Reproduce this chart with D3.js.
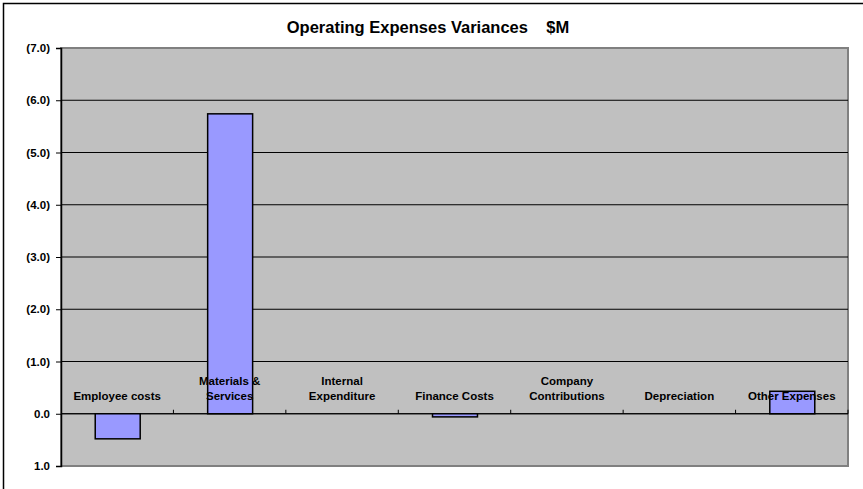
<!DOCTYPE html>
<html><head><meta charset="utf-8">
<script src="https://cdn.jsdelivr.net/npm/d3@7/dist/d3.min.js"></script>
<style>body{margin:0;background:#fff;} text{font-family:Arial,"Liberation Sans",sans-serif;font-weight:bold;}</style>
</head><body><svg id="c" width="863" height="489"></svg>
<script>
const categories = [["Employee costs"],["Materials &","Services"],["Internal","Expenditure"],["Finance Costs"],["Company","Contributions"],["Depreciation"],["Other Expenses"]];
const values = [0.48, -5.74, 0, 0.06, 0, 0, -0.43];
const tickValues = [-7, -6, -5, -4, -3, -2, -1, 0, 1];
const title = "Operating Expenses Variances\u00a0\u00a0\u00a0\u00a0$M";

const svg = d3.select("#c");
const L = 61, R = 848, T = 48, B = 466;
svg.append("rect").attr("x",3.5).attr("y",3.5).attr("width",900).attr("height",500).attr("fill","#fff").attr("stroke","#000").attr("stroke-width",1.5);

const x = d3.scaleBand().domain(d3.range(categories.length)).range([L,R]);
const y = d3.scaleLinear().domain([-7,1]).range([T,B]);

svg.append("rect").attr("x",L).attr("y",T).attr("width",R-L).attr("height",B-T).attr("fill","#C0C0C0").attr("stroke","#808080").attr("stroke-width",2);

svg.append("g").selectAll("line").data(tickValues.filter(v=>v>-7 && v<1)).join("line")
  .attr("x1",L).attr("x2",R).attr("y1",d=>y(d)).attr("y2",d=>y(d)).attr("stroke","#000").attr("stroke-width",1);

const fmt = v => v < 0 ? "(" + d3.format(".1f")(-v) + ")" : d3.format(".1f")(v);
const yAxis = d3.axisLeft(y).tickValues(tickValues).tickFormat(fmt).tickSize(5).tickPadding(6);
const ga = svg.append("g").attr("transform",`translate(${L},0)`).call(yAxis);
ga.select(".domain").attr("stroke","#000").attr("stroke-width",1.5);
ga.selectAll("text").attr("font-size","11.5px").attr("fill","#000");

svg.append("line").attr("x1",L).attr("x2",R).attr("y1",y(0)).attr("y2",y(0)).attr("stroke","#000").attr("stroke-width",1.2);
svg.append("g").selectAll("line").data(d3.range(1,categories.length+1)).join("line")
  .attr("x1",d=>x(d-1)+x.bandwidth()).attr("x2",d=>x(d-1)+x.bandwidth())
  .attr("y1",y(0)-4).attr("y2",y(0)).attr("stroke","#000");

const bw = x.bandwidth()*0.4;
svg.append("g").selectAll("rect").data(values).join("rect")
  .attr("x",(d,i)=>x(i)+x.bandwidth()/2-bw/2+0.5)
  .attr("y",d=>y(Math.min(0,d)))
  .attr("width",bw)
  .attr("height",d=>Math.abs(y(d)-y(0)))
  .attr("fill","#9999FF").attr("stroke","#000").attr("stroke-width",1.5)
  .attr("display",d=>d===0?"none":null);

const lab = svg.append("g");
categories.forEach((lines,i)=>{
  const t = lab.append("text").attr("x",x(i)+x.bandwidth()/2).attr("text-anchor","middle").attr("font-size","11.5px").attr("fill","#000");
  const n = lines.length;
  lines.forEach((s,j)=>{
    t.append("tspan").attr("x",x(i)+x.bandwidth()/2).attr("y",y(0)-14-(n-1-j)*15).text(s);
  });
});

svg.append("text").attr("x",428).attr("y",33).attr("text-anchor","middle").attr("font-size","16.5px").attr("fill","#000").text(title);
</script></body></html>
